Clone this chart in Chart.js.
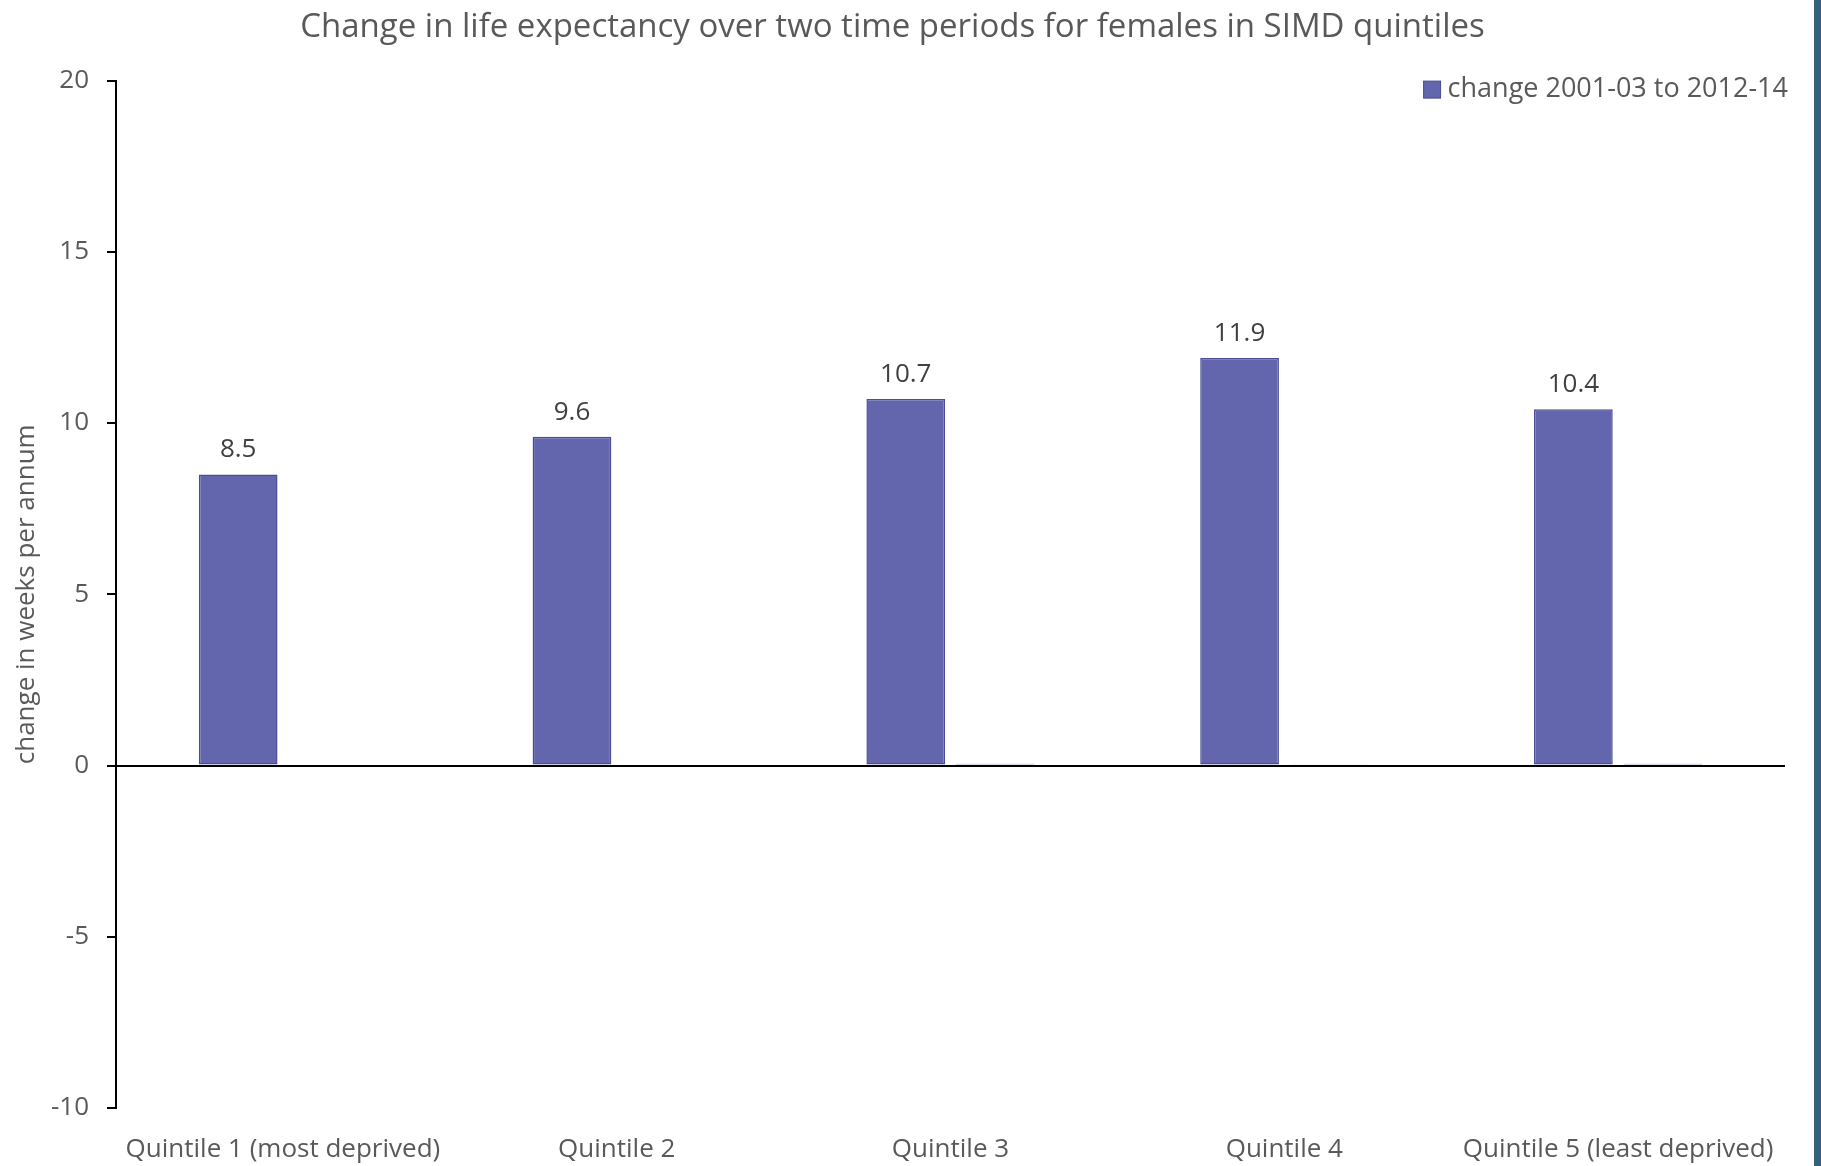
<!DOCTYPE html>
<html>
<head>
<meta charset="utf-8">
<script src="https://cdn.jsdelivr.net/npm/chart.js@4.4.1/dist/chart.umd.min.js"></script>
<style>
  html, body { margin: 0; padding: 0; background: #35607a; }
  #wrap { position: absolute; left: 0; top: 0; width: 1814px; height: 1166px; background: #fff; }
</style>
</head>
<body>
<div id="wrap"><canvas id="myChart" width="1814" height="1166"></canvas></div>
<script>
// categories and values
const quintiles = [
  "Quintile 1 (most deprived)",
  "Quintile 2",
  "Quintile 3",
  "Quintile 4",
  "Quintile 5 (least deprived)",
];
const change2001to2014 = [8.5, 9.6, 10.7, 11.9, 10.4];
// second series is almost flat at zero, not shown in the legend
const secondSeries = [0, 0, 0.05, 0.02, 0.05];
const legendLabel = "change 2001-03 to 2012-14";

const yMin = -10;
const yMax = 20;
const yStep = 5;

const textGrey = "#595959";
const barFill = "#6366ad";
const barBorder = "#4a4d96";
const fontFamily = "'Open Sans', 'Noto Sans', sans-serif";

// draws the value above each bar of the first series
const valueLabels = {
  id: "valueLabels",
  afterDatasetsDraw(chart) {
    const ctx = chart.ctx;
    const meta = chart.getDatasetMeta(0);
    ctx.save();
    ctx.fillStyle = "#404040";
    ctx.font = "26px " + fontFamily;
    ctx.textAlign = "center";
    ctx.textBaseline = "alphabetic";
    meta.data.forEach((bar, i) => {
      ctx.fillText(change2001to2014[i].toFixed(1), bar.x, bar.y - 17);
    });
    ctx.restore();
  },
};

// legend in the top right corner of the plot, only the first series
const cornerLegend = {
  id: "cornerLegend",
  afterDraw(chart) {
    const ctx = chart.ctx;
    const area = chart.chartArea;
    ctx.save();
    ctx.font = "27px " + fontFamily;
    ctx.textAlign = "right";
    ctx.textBaseline = "middle";
    const textRight = area.right + 3;
    const yMid = area.top + 9;
    const w = ctx.measureText(legendLabel).width;
    ctx.fillStyle = textGrey;
    ctx.fillText(legendLabel, textRight, yMid);
    const boxRight = textRight - w - 7;
    ctx.fillStyle = barFill;
    ctx.strokeStyle = barBorder;
    ctx.lineWidth = 1;
    ctx.fillRect(boxRight - 17, yMid - 8.5, 17, 17);
    ctx.strokeRect(boxRight - 17, yMid - 8.5, 17, 17);
    ctx.restore();
  },
};

const ctx = document.getElementById("myChart").getContext("2d");

window.myChart = new Chart(ctx, {
  type: "bar",
  data: {
    labels: quintiles,
    datasets: [
      {
        label: legendLabel,
        data: change2001to2014,
        backgroundColor: barFill,
        borderColor: barBorder,
        borderWidth: 1.5,
        borderSkipped: false,
        barPercentage: 0.88,
        categoryPercentage: 0.536,
      },
      {
        label: "other",
        data: secondSeries,
        backgroundColor: barFill,
        borderColor: barBorder,
        borderWidth: 1,
        barPercentage: 0.88,
        categoryPercentage: 0.536,
      },
    ],
  },
  options: {
    responsive: false,
    animation: false,
    layout: {
      padding: { left: 0, right: 29, top: 0, bottom: 0 },
    },
    scales: {
      x: {
        border: { display: false },
        grid: { display: false, drawTicks: false },
        ticks: {
          color: textGrey,
          padding: 26,
          maxRotation: 0,
          autoSkip: false,
          font: { family: fontFamily, size: 26 },
        },
        afterFit(scale) {
          scale.height = 58;
        },
      },
      y: {
        min: yMin,
        max: yMax,
        border: { display: true, color: "#000", width: 2 },
        grid: {
          color: (c) => (c.tick && c.tick.value === 0 ? "#000" : "rgba(0,0,0,0)"),
          lineWidth: 2,
          tickColor: "#000",
          tickLength: 9,
        },
        ticks: {
          stepSize: yStep,
          color: textGrey,
          padding: 18,
          font: { family: fontFamily, size: 26 },
        },
        title: {
          display: true,
          text: "change in weeks per annum",
          color: textGrey,
          padding: { top: 11, bottom: 0 },
          font: { family: fontFamily, size: 26 },
        },
        afterFit(scale) {
          scale.width = 116;
        },
      },
    },
    plugins: {
      title: {
        display: true,
        text: "Change in life expectancy over two time periods for females in SIMD quintiles",
        color: textGrey,
        padding: { top: 8, bottom: 33 },
        font: { family: fontFamily, size: 33, weight: "normal" },
      },
      legend: { display: false },
      tooltip: { enabled: false },
    },
  },
  plugins: [valueLabels, cornerLegend],
});
</script>
</body>
</html>
